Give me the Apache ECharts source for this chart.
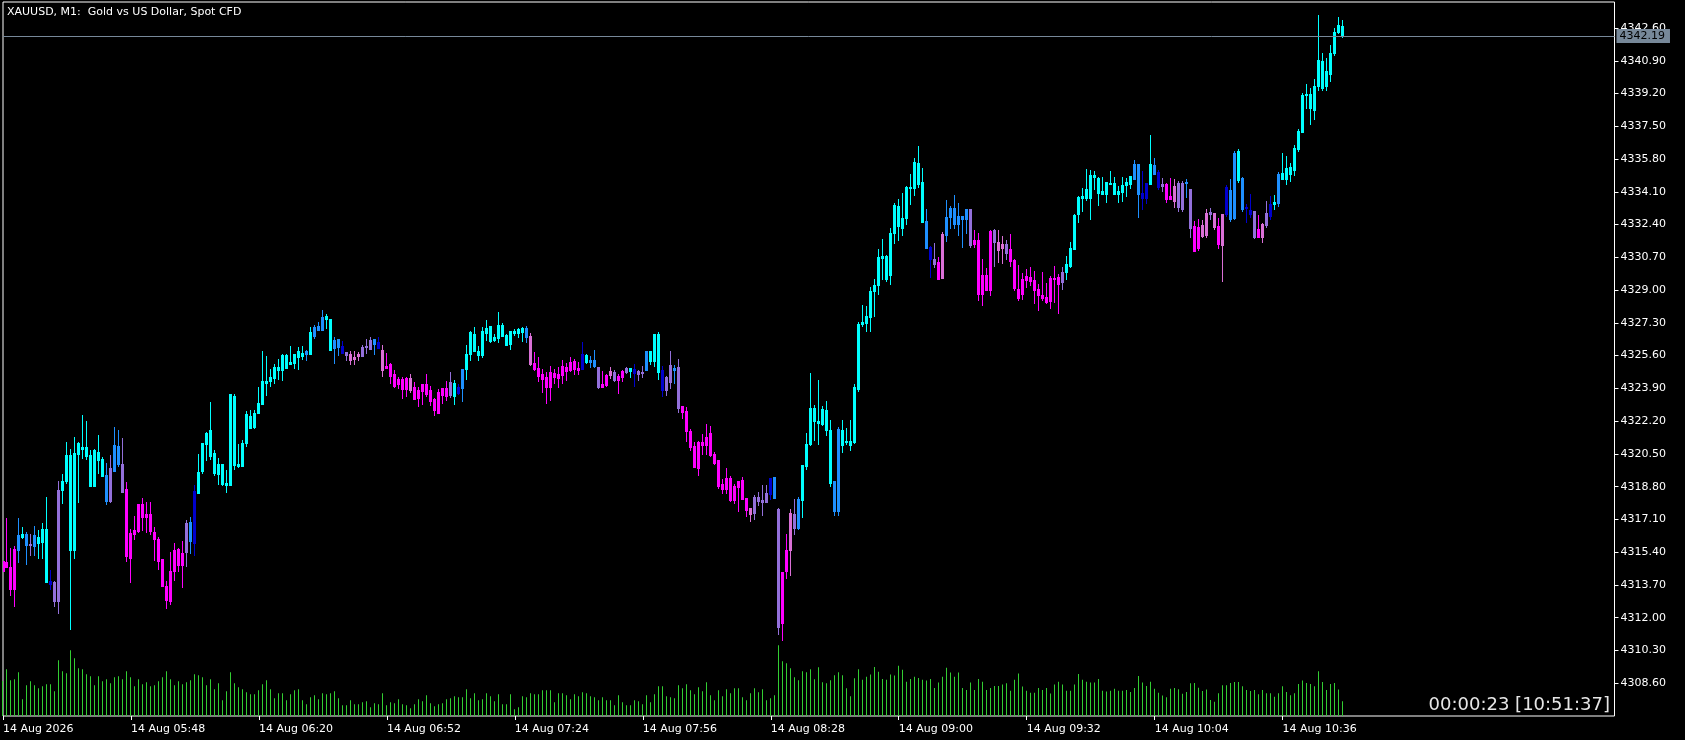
<!DOCTYPE html>
<html>
<head>
<meta charset="utf-8">
<script src="https://cdn.jsdelivr.net/npm/echarts@6/dist/echarts.min.js"></script>
<style>
html, body { margin: 0; padding: 0; background: #000; overflow: hidden; }
#chart { width: 1685px; height: 740px; }
</style>
</head>
<body>
<div id="chart"></div>
<script>
// ---------------- DATA ----------------
const symbolTitle = 'XAUUSD, M1:  Gold vs US Dollar, Spot CFD';
const dayLabel = '14 Aug';
const firstLabel = '14 Aug 2026';
const clockText = '00:00:23 [10:51:37]';

const times = [
'05:16','05:17','05:18','05:19','05:20','05:21','05:22','05:23','05:24','05:25','05:26','05:27','05:28','05:29','05:30','05:31','05:32','05:33','05:34','05:35','05:36','05:37','05:38','05:39','05:40','05:41','05:42','05:43','05:44','05:45','05:46','05:47','05:48','05:49','05:50','05:51','05:52','05:53','05:54','05:55','05:56','05:57','05:58','05:59',
'06:00','06:01','06:02','06:03','06:04','06:05','06:06','06:07','06:08','06:09','06:10','06:11','06:12','06:13','06:14','06:15','06:16','06:17','06:18','06:19','06:20','06:21','06:22','06:23','06:24','06:25','06:26','06:27','06:28','06:29','06:30','06:31','06:32','06:33','06:34','06:35','06:36','06:37','06:38','06:39','06:40','06:41','06:42','06:43','06:44','06:45','06:46','06:47','06:48','06:49','06:50','06:51','06:52','06:53','06:54','06:55','06:56','06:57','06:58','06:59',
'07:00','07:01','07:02','07:03','07:04','07:05','07:06','07:07','07:08','07:09','07:10','07:11','07:12','07:13','07:14','07:15','07:16','07:17','07:18','07:19','07:20','07:21','07:22','07:23','07:24','07:25','07:26','07:27','07:28','07:29','07:30','07:31','07:32','07:33','07:34','07:35','07:36','07:37','07:38','07:39','07:40','07:41','07:42','07:43','07:44','07:45','07:46','07:47','07:48','07:49','07:50','07:51','07:52','07:53','07:54','07:55','07:56','07:57','07:58','07:59',
'08:00','08:01','08:02','08:03','08:04','08:05','08:06','08:07','08:08','08:09','08:10','08:11','08:12','08:13','08:14','08:15','08:16','08:17','08:18','08:19','08:20','08:21','08:22','08:23','08:24','08:25','08:26','08:27','08:28','08:29','08:30','08:31','08:32','08:33','08:34','08:35','08:36','08:37','08:38','08:39','08:40','08:41','08:42','08:43','08:44','08:45','08:46','08:47','08:48','08:49','08:50','08:51','08:52','08:53','08:54','08:55','08:56','08:57','08:58','08:59',
'09:00','09:01','09:02','09:03','09:04','09:05','09:06','09:07','09:08','09:09','09:10','09:11','09:12','09:13','09:14','09:15','09:16','09:17','09:18','09:19','09:20','09:21','09:22','09:23','09:24','09:25','09:26','09:27','09:28','09:29','09:30','09:31','09:32','09:33','09:34','09:35','09:36','09:37','09:38','09:39','09:40','09:41','09:42','09:43','09:44','09:45','09:46','09:47','09:48','09:49','09:50','09:51','09:52','09:53','09:54','09:55','09:56','09:57','09:58','09:59',
'10:00','10:01','10:02','10:03','10:04','10:05','10:06','10:07','10:08','10:09','10:10','10:11','10:12','10:13','10:14','10:15','10:16','10:17','10:18','10:19','10:20','10:21','10:22','10:23','10:24','10:25','10:26','10:27','10:28','10:29','10:30','10:31','10:32','10:33','10:34','10:35','10:36','10:37','10:38','10:39','10:40','10:41','10:42','10:43','10:44','10:45','10:46','10:47','10:48','10:49','10:50','10:51'
];

const open = [
4314.92,4314.87,4314.64,4315.58,4315.52,4316.20,4315.75,4315.80,4315.70,4315.89,
4315.94,4313.86,4313.76,4313.83,4318.63,4318.63,4319.10,4315.52,4315.52,4320.52,
4320.78,4320.40,4318.86,4318.86,4320.19,4319.36,4318.06,4319.78,4319.62,4319.98,
4319.98,4318.69,4316.40,4316.56,4317.91,4317.91,4317.39,4317.39,4316.46,4316.09,
4315.06,4313.65,4314.45,4315.52,4315.58,4315.35,4316.94,4315.99,4315.87,4318.46,
4319.62,4321.04,4320.40,4319.52,4319.47,4318.95,4318.91,4318.91,4319.93,4319.88,
4319.88,4321.08,4321.82,4321.92,4322.60,4323.10,4324.19,4324.26,4324.46,4324.83,
4324.83,4324.98,4325.19,4325.24,4325.55,4325.59,4325.66,4325.71,4326.64,4326.94,
4326.94,4327.49,4325.90,4326.02,4326.07,4325.74,4325.81,4325.69,4325.54,4325.69,
4326.05,4326.11,4326.42,4326.21,4326.00,4325.90,4325.07,4325.17,4324.65,4324.40,
4324.40,4324.45,4324.45,4323.98,4323.82,4324.14,4324.14,4323.82,4323.36,4323.72,
4323.93,4323.93,4324.24,4323.51,4323.67,4323.93,4324.91,4325.69,4325.85,4325.64,
4325.64,4326.78,4326.37,4326.42,4326.52,4326.63,4326.16,4326.21,4326.78,4326.78,
4326.83,4326.57,4326.62,4325.22,4324.96,4324.65,4324.50,4324.76,4324.70,4324.65,
4325.07,4325.01,4325.27,4325.33,4324.96,4324.91,4325.27,4325.27,4325.07,4325.01,
4324.13,4324.60,4324.81,4324.76,4324.55,4324.81,4324.96,4324.81,4324.70,4324.81,
4324.76,4324.86,4325.33,4325.33,4324.76,4323.82,4324.50,4325.12,4324.86,4325.01,
4322.99,4322.73,4321.69,4320.91,4321.12,4321.12,4321.38,4321.59,4320.50,4320.19,
4318.94,4319.25,4319.25,4318.84,4319.10,4319.15,4318.22,4317.70,4318.27,4318.27,
4318.11,4318.48,4318.42,4318.22,4317.65,4314.38,4315.52,4317.44,4317.39,4316.66,
4318.11,4319.88,4321.02,4322.21,4322.11,4322.05,4321.74,4318.99,4317.54,4317.54,
4320.96,4321.12,4320.96,4321.12,4323.89,4327.26,4327.30,4327.60,4328.96,4329.28,
4330.69,4329.58,4329.76,4331.94,4332.33,4332.22,4332.75,4334.30,4334.32,4334.52,
4332.55,4331.20,4330.59,4330.61,4330.45,4331.92,4331.84,4332.79,4332.43,4332.43,
4332.69,4332.69,4333.21,4331.60,4331.60,4329.78,4329.78,4332.08,4332.12,4331.50,
4331.40,4331.40,4331.11,4330.55,4329.06,4329.58,4329.74,4329.68,4329.52,4329.04,
4328.75,4328.65,4329.64,4329.64,4329.68,4329.94,4329.94,4330.25,4331.11,4332.93,
4333.78,4333.78,4333.78,4334.87,4334.04,4333.98,4333.98,4334.51,4333.98,4333.98,
4334.08,4334.44,4334.51,4334.77,4333.98,4333.78,4333.78,4334.51,4335.03,4334.34,
4334.51,4334.51,4333.88,4334.40,4334.57,4334.57,4334.57,4334.24,4332.31,4332.25,
4332.40,4333.01,4333.03,4333.01,4332.35,4332.96,4332.96,4332.67,4332.74,4334.70,
4333.21,4333.25,4332.96,4333.13,4332.15,4332.42,4332.98,4332.86,4333.45,4333.50,
4334.75,4334.75,4335.04,4335.24,4336.31,4337.20,4339.13,4338.47,4338.35,4339.57,
4339.50,4339.57,4340.23,4341.28,4342.39,4342.68
];

const high = [
4314.95,4317.16,4315.61,4315.73,4317.16,4316.71,4316.46,4316.35,4316.77,4316.56,
4316.91,4318.27,4314.47,4313.90,4319.08,4319.45,4321.12,4320.76,4321.38,4321.11,
4322.52,4322.21,4320.71,4320.76,4321.49,4320.35,4320.03,4320.45,4321.90,4321.75,
4321.33,4319.05,4316.61,4317.29,4317.91,4318.22,4318.01,4318.01,4316.71,4316.20,
4315.06,4313.88,4315.42,4315.89,4315.63,4315.96,4317.08,4317.22,4318.90,4320.50,
4321.08,4321.66,4323.20,4320.71,4320.30,4319.99,4319.67,4323.62,4323.62,4320.99,
4321.20,4322.74,4322.79,4322.79,4323.95,4325.86,4325.59,4324.93,4325.17,4325.43,
4325.69,4325.69,4326.11,4325.69,4326.07,4326.11,4325.90,4327.09,4327.20,4327.35,
4327.97,4327.77,4327.51,4326.57,4326.47,4326.37,4325.81,4325.85,4325.85,4325.80,
4326.16,4326.45,4326.57,4326.47,4326.57,4326.16,4325.74,4325.22,4324.86,4324.50,
4324.50,4324.50,4324.65,4324.24,4323.98,4324.14,4324.65,4324.03,4323.41,4323.88,
4323.93,4324.29,4324.76,4324.34,4324.14,4324.91,4326.16,4326.88,4327.09,4326.11,
4327.09,4327.46,4327.14,4326.73,4327.87,4327.30,4326.73,4326.88,4326.99,4327.04,
4327.09,4327.14,4326.78,4325.79,4325.53,4324.91,4324.76,4325.07,4324.91,4325.01,
4325.38,4325.22,4325.53,4325.43,4325.27,4326.31,4325.69,4325.59,4325.90,4325.01,
4324.81,4324.65,4325.01,4324.86,4324.65,4324.86,4325.01,4324.96,4325.17,4324.86,
4325.07,4325.85,4325.85,4326.73,4326.83,4325.07,4324.55,4325.85,4325.12,4325.43,
4322.99,4322.94,4321.80,4321.12,4321.17,4321.54,4322.05,4321.95,4320.60,4320.19,
4319.20,4319.77,4319.36,4318.94,4319.10,4319.31,4318.22,4317.70,4318.37,4318.53,
4318.89,4318.89,4319.25,4319.31,4317.70,4314.38,4316.35,4317.65,4318.16,4318.27,
4319.93,4321.59,4324.70,4323.04,4324.34,4322.99,4323.25,4322.26,4319.10,4321.90,
4322.26,4321.85,4322.26,4324.13,4327.32,4328.23,4328.19,4329.16,4329.58,4331.13,
4331.64,4330.81,4332.22,4333.52,4333.72,4334.04,4334.42,4335.03,4335.88,4336.48,
4335.33,4333.21,4331.30,4331.46,4330.71,4332.02,4333.68,4333.36,4333.94,4333.52,
4332.85,4333.21,4333.21,4332.10,4331.96,4330.61,4330.13,4332.14,4332.18,4332.10,
4331.82,4331.60,4331.90,4330.63,4330.29,4329.88,4330.11,4330.21,4330.00,4329.30,
4329.92,4329.38,4329.74,4330.25,4329.86,4330.21,4330.77,4331.48,4332.93,4333.88,
4334.28,4335.29,4335.21,4335.17,4334.87,4334.87,4334.61,4335.19,4334.87,4334.40,
4334.87,4334.81,4334.93,4335.76,4335.55,4335.19,4334.57,4337.05,4335.86,4335.23,
4334.81,4334.57,4334.81,4334.77,4334.67,4334.67,4334.77,4334.24,4332.57,4332.67,
4332.64,4333.23,4333.28,4333.01,4332.74,4332.96,4334.45,4334.75,4336.22,4336.31,
4334.87,4333.47,4333.99,4333.13,4332.91,4332.47,4333.60,4333.87,4333.96,4335.12,
4336.09,4335.95,4335.60,4336.51,4337.37,4339.23,4339.69,4339.47,4339.96,4343.27,
4341.31,4341.04,4341.70,4342.58,4343.19,4343.00
];

const low = [
4314.40,4314.64,4313.19,4312.63,4314.87,4316.16,4314.81,4315.23,4315.26,4315.12,
4315.12,4313.83,4313.48,4312.63,4312.22,4317.96,4319.01,4311.44,4315.12,4318.03,
4320.30,4320.24,4318.86,4318.86,4319.52,4319.36,4317.91,4318.01,4319.62,4319.88,
4318.53,4314.95,4313.83,4316.06,4316.46,4316.56,4316.46,4316.35,4315.02,4314.55,
4313.62,4312.53,4312.69,4313.98,4314.45,4313.59,4314.66,4315.35,4315.25,4318.46,
4319.50,4320.19,4320.25,4319.42,4318.95,4318.90,4318.53,4318.91,4319.74,4319.80,
4319.88,4320.92,4321.82,4321.87,4322.60,4323.10,4323.58,4324.03,4324.20,4324.40,
4324.31,4324.97,4325.17,4324.98,4324.93,4325.43,4325.35,4325.71,4326.49,4326.94,
4326.94,4327.01,4325.90,4325.22,4325.64,4325.74,4325.35,4325.14,4325.17,4325.38,
4325.59,4325.74,4325.95,4325.69,4326.00,4324.55,4324.97,4324.19,4323.98,4323.93,
4323.41,4323.51,4323.72,4323.36,4323.00,4323.10,4323.51,4323.05,4322.53,4322.63,
4323.15,4323.31,4323.46,4323.10,4323.62,4323.25,4324.40,4325.38,4325.85,4325.38,
4325.54,4326.42,4326.31,4326.37,4326.31,4326.63,4326.16,4325.95,4326.68,4326.57,
4326.36,4326.31,4325.12,4324.86,4324.29,4323.72,4323.15,4323.30,4324.19,4323.98,
4324.19,4324.34,4324.81,4324.65,4324.65,4324.91,4325.22,4325.01,4325.01,4323.93,
4323.98,4324.03,4324.45,4324.29,4323.67,4324.29,4324.70,4324.50,4324.03,4324.34,
4324.50,4324.86,4325.17,4325.07,4324.39,4323.51,4323.56,4323.93,4324.19,4322.68,
4322.37,4321.18,4320.71,4319.82,4319.41,4320.50,4320.50,4320.39,4319.98,4318.73,
4318.48,4318.48,4318.06,4317.96,4317.54,4318.16,4317.28,4317.02,4317.13,4317.85,
4317.33,4318.01,4318.16,4318.22,4311.16,4310.85,4314.07,4314.22,4316.35,4316.61,
4317.23,4319.72,4320.96,4321.22,4321.02,4322.00,4321.48,4318.84,4317.33,4317.33,
4320.60,4321.02,4320.71,4321.07,4323.75,4327.12,4326.88,4326.88,4327.66,4328.81,
4329.58,4329.46,4329.34,4331.42,4331.60,4331.84,4332.41,4333.48,4333.96,4334.36,
4332.55,4331.16,4329.70,4330.21,4329.56,4329.64,4331.56,4332.22,4332.22,4331.86,
4331.22,4331.98,4331.22,4331.26,4328.51,4328.25,4328.98,4328.77,4330.25,4330.45,
4330.43,4330.63,4330.25,4328.98,4328.47,4328.55,4329.16,4329.24,4328.31,4327.99,
4328.51,4328.31,4328.09,4328.37,4327.79,4329.04,4329.58,4330.21,4331.11,4332.51,
4333.13,4333.68,4332.71,4334.24,4333.40,4333.98,4333.56,4334.51,4333.98,4333.56,
4333.62,4333.88,4334.28,4334.77,4332.77,4333.19,4333.52,4334.51,4335.03,4334.24,
4334.14,4333.56,4333.72,4333.29,4333.09,4333.09,4333.82,4331.78,4331.05,4331.09,
4331.74,4331.74,4332.67,4332.18,4331.20,4329.48,4332.86,4332.59,4332.67,4334.63,
4333.11,4332.54,4332.79,4331.69,4331.74,4331.49,4332.28,4332.71,4333.23,4333.38,
4334.75,4334.50,4334.67,4334.99,4336.22,4337.20,4338.47,4337.64,4337.86,4339.40,
4339.40,4339.40,4339.84,4341.21,4342.34,4342.15
];

const close = [
4314.45,4314.64,4313.50,4313.50,4316.30,4316.35,4316.35,4315.75,4316.30,4316.20,
4316.61,4316.61,4313.91,4312.89,4312.89,4319.10,4320.45,4320.43,4320.55,4321.07,
4320.86,4320.86,4320.45,4320.71,4320.61,4320.24,4319.41,4318.06,4320.97,4320.92,
4318.53,4315.18,4315.12,4316.35,4316.51,4317.23,4317.23,4316.51,4316.06,4314.92,
4313.62,4312.93,4312.89,4314.40,4314.71,4314.75,4315.39,4316.98,4318.55,4319.57,
4321.08,4321.59,4321.75,4320.56,4319.99,4319.99,4319.00,4323.62,4323.51,4319.99,
4321.08,4322.58,4322.49,4322.60,4323.15,4324.29,4324.29,4324.50,4325.02,4325.02,
4325.61,4325.64,4325.29,4325.66,4325.86,4325.74,4325.85,4326.83,4327.09,4327.14,
4327.61,4327.66,4327.51,4326.42,4326.47,4326.11,4325.64,4325.38,4325.43,4325.59,
4325.59,4326.05,4325.95,4326.47,4326.31,4324.86,4324.97,4324.55,4324.03,4324.14,
4323.88,4323.88,4323.82,4323.36,4323.41,4323.77,4323.62,4323.25,4322.79,4322.63,
4323.56,4323.51,4323.56,4324.19,4323.98,4324.91,4325.69,4326.83,4326.73,4325.85,
4326.88,4327.04,4327.14,4326.57,4327.20,4327.20,4326.68,4326.88,4326.88,4326.99,
4327.04,4327.04,4325.17,4324.91,4324.55,4324.39,4323.98,4323.98,4324.50,4324.45,
4324.60,4324.81,4324.86,4324.91,4324.86,4325.69,4325.64,4325.38,4325.38,4323.98,
4323.98,4324.08,4324.60,4324.34,4324.34,4324.50,4324.76,4324.96,4324.91,4324.65,
4324.72,4325.85,4325.85,4326.73,4326.73,4324.86,4323.82,4324.24,4324.96,4322.89,
4322.68,4321.70,4320.86,4319.82,4319.77,4320.96,4320.96,4320.45,4320.03,4318.84,
4318.68,4318.68,4318.11,4318.11,4318.79,4318.16,4317.59,4317.39,4317.44,4318.06,
4318.01,4318.01,4319.25,4319.31,4311.52,4311.73,4314.43,4315.52,4316.66,4318.16,
4319.93,4321.02,4322.88,4322.88,4322.21,4322.83,4322.78,4321.74,4319.10,4321.80,
4321.74,4321.17,4321.17,4323.97,4327.22,4327.34,4327.66,4328.96,4329.28,4330.73,
4330.75,4330.75,4331.94,4333.42,4333.38,4332.75,4334.36,4334.36,4335.66,4335.59,
4334.61,4332.57,4331.22,4330.33,4329.60,4329.64,4332.79,4333.27,4333.27,4332.85,
4332.85,4333.21,4331.34,4331.40,4328.81,4328.81,4329.00,4329.00,4331.48,4331.09,
4331.20,4330.93,4330.53,4329.12,4328.61,4328.81,4329.54,4329.48,4328.98,4328.75,
4328.59,4328.37,4328.41,4329.58,4329.30,4329.42,4330.37,4331.20,4332.89,4333.84,
4333.88,4334.24,4334.97,4334.97,4334.81,4334.14,4334.61,4334.57,4334.55,4334.14,
4334.44,4334.61,4334.93,4335.55,4335.55,4334.04,4334.57,4335.55,4335.49,4335.13,
4334.40,4333.72,4333.72,4333.62,4333.29,4333.19,4334.61,4332.20,4331.05,4331.20,
4331.81,4331.86,4332.96,4332.25,4331.39,4331.34,4334.33,4334.18,4336.14,4336.22,
4334.80,4333.33,4333.16,4331.76,4331.76,4331.74,4332.37,4333.45,4333.57,4335.04,
4335.09,4335.34,4335.41,4336.39,4337.24,4339.15,4339.20,4339.20,4339.59,4340.92,
4340.87,4340.35,4341.31,4342.39,4342.75,4342.19
];

// tick volume per bar
const volume = [
140,187,143,147,175,67,123,139,123,111,
119,127,127,99,223,179,171,263,231,191,
187,167,159,123,159,139,147,131,155,159,
147,179,155,119,147,127,135,119,123,139,
155,179,147,123,139,127,135,143,167,163,
155,123,147,107,131,63,99,175,131,115,
107,95,87,87,103,127,143,107,71,91,
91,63,87,103,107,63,47,75,83,67,
91,87,91,99,71,43,43,63,47,47,
55,59,35,51,47,91,43,55,51,67,
47,43,31,47,67,59,83,51,39,47,
51,67,71,79,75,75,107,71,91,63,
67,91,79,59,87,47,47,87,27,35,
79,75,91,87,87,103,103,103,55,91,
91,83,67,87,79,95,91,79,75,63,
75,63,63,43,83,55,43,43,63,59,
47,83,55,87,119,119,79,75,71,123,
111,127,103,87,115,99,135,83,63,103,
79,107,91,111,111,75,63,91,111,95,
107,63,71,83,283,219,211,191,155,143,
179,175,187,147,195,135,131,143,163,175,
163,111,79,151,187,145,157,166,196,177,
148,145,166,162,201,185,137,148,157,152,
145,142,148,112,134,157,193,174,157,174,
112,104,134,104,148,137,104,112,120,120,
126,131,101,145,170,118,101,93,93,112,
104,112,90,126,137,126,101,101,126,168,
145,137,134,134,148,101,98,101,109,101,
101,104,96,112,160,134,120,137,109,93,
82,75,109,112,107,89,96,131,132,113,
100,106,64,57,91,123,123,132,136,136,
119,104,100,104,87,104,91,91,77,91,
119,96,83,91,128,142,132,128,119,179,
136,104,128,132,106,59
];

// trend-strength class per bar (0 strong up ... 5 strong down), from the bar colours
const trendClass = [
5,5,5,5,1,0,1,3,1,0,
0,0,2,3,3,0,0,0,0,0,
0,0,0,0,0,0,1,3,1,1,
3,5,5,5,5,5,5,5,5,5,
5,5,5,5,5,5,3,1,2,0,
0,0,0,0,0,0,0,0,0,0,
0,0,0,0,0,0,0,0,0,0,
0,0,0,0,0,0,1,0,1,1,
1,0,0,1,1,2,3,4,4,4,
3,3,3,1,2,4,5,5,5,5,
5,5,4,5,5,5,5,5,5,5,
5,5,3,0,2,1,0,0,0,0,
0,0,0,0,0,0,0,0,0,0,
0,1,4,5,5,5,5,5,5,5,
5,5,5,5,5,2,0,1,1,3,
5,5,4,3,5,5,3,0,2,3,
3,1,0,0,0,2,3,3,1,3,
5,5,5,5,5,5,5,5,5,5,
5,5,5,5,5,5,5,4,3,3,
3,3,2,1,3,5,5,4,3,1,
0,0,0,0,0,0,0,0,1,1,
0,0,0,0,0,0,0,0,0,0,
0,0,0,0,0,0,0,0,0,0,
0,1,2,3,5,4,1,1,1,1,
1,1,3,5,5,5,5,5,3,4,
4,3,5,5,5,5,5,5,5,5,
5,5,5,5,5,3,0,0,0,0,
0,0,0,0,0,0,0,0,0,0,
0,0,0,1,1,2,2,0,1,2,
3,5,5,4,3,3,1,3,5,5,
4,4,3,4,5,4,2,1,1,0,
1,2,2,3,5,4,3,2,0,1,
0,0,0,0,0,0,0,0,0,0,
0,0,0,0,0,0
];

const priceTickLabels = [4308.60,4310.30,4312.00,4313.70,4315.40,4317.10,4318.80,4320.50,4322.20,4323.90,4325.60,4327.30,4329.00,4330.70,4332.40,4334.10,4335.80,4337.50,4339.20,4340.90,4342.60];

// ---------------- STYLE / LAYOUT ----------------
const palette = ['#00FFFF', '#1E90FF', '#0000CD', '#9370DB', '#DA70D6', '#FF00FF'];
const FONT = 'DejaVu Sans';
const emptySlots = 68;       // blank bar slots to the right of the last bar
const labelEvery = 32;

const categories = times.concat(new Array(emptySlots).fill(''));

// [index, open, close, low, high, class]
const candleData = times.map((t, i) => [i, open[i], close[i], low[i], high[i], trendClass[i]]);

const lastPrice = close[close.length - 1];
const showTick = (index, value) => index % labelEvery === 0 && value !== '';

function renderCandle(params, api) {
  const i = api.value(0);
  const pO = api.coord([i, api.value(1)]);
  const pC = api.coord([i, api.value(2)]);
  const pL = api.coord([i, api.value(3)]);
  const pH = api.coord([i, api.value(4)]);
  const color = palette[api.value(5)];
  const cx = Math.floor(pO[0]);
  const yTop = Math.round(Math.min(pO[1], pC[1]));
  const yBot = Math.round(Math.max(pO[1], pC[1]));
  const yH = Math.round(pH[1]);
  const yL = Math.round(pL[1]);
  return {
    type: 'group',
    children: [
      { type: 'rect', shape: { x: cx, y: yH, width: 1, height: Math.max(1, yL - yH + 1) }, style: { fill: color } },
      { type: 'rect', shape: { x: cx - 1, y: yTop, width: 3, height: Math.max(1, yBot - yTop + 1) }, style: { fill: color } }
    ]
  };
}

const chart = echarts.init(document.getElementById('chart'), null, { renderer: 'canvas' });
chart.setOption({
  backgroundColor: '#000000',
  animation: false,
  textStyle: { fontFamily: FONT },
  title: [
    { text: symbolTitle, left: 7, top: 6, padding: 0,
      textStyle: { color: '#FFFFFF', fontSize: 11, fontWeight: 'normal', fontFamily: FONT, lineHeight: 13 } },
    { text: clockText, right: 75, top: 694, padding: 0,
      textStyle: { color: '#E6E6E6', fontSize: 18, fontWeight: 'normal', fontFamily: FONT, lineHeight: 22 } }
  ],
  grid: [
    { left: 2.5, right: 70.5, top: 2, bottom: 24, show: true, borderColor: '#FFFFFF', borderWidth: 1, backgroundColor: 'transparent', containLabel: false },
    { left: 2.5, right: 70.5, bottom: 24, height: 100, containLabel: false }
  ],
  xAxis: [
    { type: 'category', gridIndex: 0, data: categories, boundaryGap: false,
      axisLine: { show: false },
      axisTick: { show: true, interval: showTick, length: 4, lineStyle: { color: '#FFFFFF', width: 1 } },
      axisLabel: { show: true, interval: showTick, align: 'left', margin: 8, color: '#FFFFFF', fontSize: 11, fontFamily: FONT,
        formatter: (value, index) => index === 0 ? firstLabel : dayLabel + ' ' + value },
      splitLine: { show: false } },
    { type: 'category', gridIndex: 1, data: categories, boundaryGap: false, show: false }
  ],
  yAxis: [
    { type: 'value', gridIndex: 0, position: 'right', min: 4306.90, max: 4343.95, scale: true,
      axisLine: { show: false },
      axisTick: { show: true, length: 4, customValues: priceTickLabels, lineStyle: { color: '#FFFFFF', width: 1 } },
      axisLabel: { show: true, margin: 6, customValues: priceTickLabels, color: '#FFFFFF', fontSize: 11, fontFamily: FONT,
        formatter: v => v.toFixed(2) },
      splitLine: { show: false } },
    { type: 'value', gridIndex: 1, min: 0, max: 400, show: false, splitLine: { show: false } }
  ],
  series: [
    { type: 'custom', name: 'XAUUSD', xAxisIndex: 0, yAxisIndex: 0, data: candleData, clip: true,
      renderItem: renderCandle,
      encode: { x: 0, y: [1, 2, 3, 4] },
      silent: true },
    { type: 'line', name: 'last', xAxisIndex: 0, yAxisIndex: 0, data: [[times.length - 1, lastPrice]],
      showSymbol: false, symbol: 'none', lineStyle: { opacity: 0 }, silent: true,
      markLine: {
        silent: true, symbol: ['none', 'none'], animation: false,
        data: [{ yAxis: lastPrice }],
        lineStyle: { color: '#778899', width: 1, type: 'solid' },
        label: { show: true, position: 'end', distance: 2, formatter: () => lastPrice.toFixed(2),
          backgroundColor: '#778899', color: '#000000', fontSize: 11, fontFamily: FONT, padding: [2, 5, 1, 3] },
        emphasis: { disabled: true }
      } },
    { type: 'bar', xAxisIndex: 1, yAxisIndex: 1, data: volume, barWidth: 1,
      itemStyle: { color: '#32CD32' }, emphasis: { disabled: true }, silent: true }
  ]
});
</script>
</body>
</html>
